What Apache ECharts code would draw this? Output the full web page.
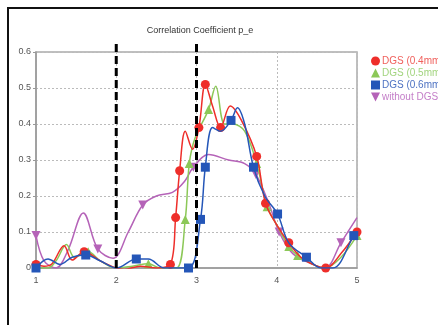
<!DOCTYPE html>
<html>
<head>
<meta charset="utf-8">
<script src="https://cdn.jsdelivr.net/npm/echarts@6/dist/echarts.min.js"></script>
<style>
  html, body { margin: 0; padding: 0; background: #fff; }
  #chart { width: 438px; height: 325px; }
</style>
</head>
<body>
<div id="chart"></div>
<script>
// Correlation coefficient p_e versus position, four configurations
const titleText = 'Correlation Coefficient p_e';
const seriesNames = ['DGS (0.4mm)', 'DGS (0.5mm)', 'DGS (0.6mm)', 'without DGS'];
const xTicks = [1, 2, 3, 4, 5];
const yTicks = [0, 0.1, 0.2, 0.3, 0.4, 0.5, 0.6];
const boundaryX = [2, 3];

// curve samples [x, y]
const dgs04 = [
  [1.0, 0.01], [1.1, 0.005], [1.2, 0.012], [1.35, 0.062], [1.45, 0.022], [1.6, 0.045],
  [1.8, 0.02], [2.0, 0.0], [2.1, -0.004], [2.3, 0.005], [2.5, 0.0], [2.675, 0.01],
  [2.74, 0.14], [2.79, 0.27], [2.86, 0.38], [2.95, 0.33], [3.03, 0.39], [3.11, 0.51],
  [3.2, 0.45], [3.3, 0.39], [3.42, 0.45], [3.56, 0.41], [3.75, 0.31], [3.86, 0.18],
  [4.0, 0.12], [4.15, 0.07], [4.3, 0.03], [4.45, 0.01], [4.61, 0.0], [4.8, 0.04], [5.0, 0.10]
];
const dgs05 = [
  [1.0, 0.0], [1.15, 0.0], [1.25, 0.02], [1.38, 0.065], [1.48, 0.03], [1.65, 0.045],
  [1.8, 0.02], [2.0, 0.0], [2.2, 0.005], [2.4, 0.012], [2.55, 0.0], [2.75, 0.0],
  [2.86, 0.135], [2.91, 0.29], [2.98, 0.36], [3.15, 0.44], [3.24, 0.505], [3.35, 0.4],
  [3.45, 0.4], [3.6, 0.38], [3.75, 0.29], [3.88, 0.17], [4.0, 0.12], [4.15, 0.06],
  [4.26, 0.035], [4.45, 0.01], [4.6, 0.0], [4.8, 0.03], [5.0, 0.09]
];
const dgs06 = [
  [1.0, 0.0], [1.15, 0.025], [1.3, 0.01], [1.45, 0.03], [1.62, 0.036], [1.8, 0.02],
  [2.0, 0.0], [2.25, 0.025], [2.4, 0.025], [2.6, 0.0], [2.9, 0.0], [3.05, 0.135],
  [3.11, 0.28], [3.2, 0.39], [3.3, 0.38], [3.43, 0.41], [3.51, 0.445], [3.6, 0.4],
  [3.71, 0.28], [3.85, 0.2], [4.01, 0.15], [4.15, 0.07], [4.37, 0.03], [4.55, 0.0],
  [4.7, 0.0], [4.96, 0.09], [5.0, 0.1]
];
const noDgs = [
  [1.0, 0.09], [1.1, 0.02], [1.25, 0.0], [1.4, 0.05], [1.59, 0.153], [1.77, 0.053],
  [1.96, 0.027], [2.15, 0.1], [2.33, 0.175], [2.5, 0.2], [2.7, 0.21], [2.85, 0.24],
  [2.96, 0.28], [3.15, 0.315], [3.4, 0.3], [3.6, 0.29], [3.74, 0.26], [3.9, 0.18],
  [4.03, 0.1], [4.2, 0.04], [4.45, 0.01], [4.6, 0.0], [4.8, 0.07], [5.0, 0.14]
];

// which samples carry a marker (indices into the arrays above)
const dgs04Marked = [0, 5, 8, 11, 12, 13, 16, 17, 19, 22, 23, 25, 28, 30];
const dgs05Marked = [5, 9, 12, 13, 15, 20, 21, 23, 24, 28];
const dgs06Marked = [0, 4, 7, 10, 11, 12, 15, 18, 20, 22, 25];
const noDgsMarked = [0, 5, 8, 12, 16, 18, 22];

const colors = ['#ee2e2a', '#8cc858', '#2456b8', '#b563b8'];
const legendTextColors = ['#f0605c', '#a2d47e', '#4d72c2', '#c47ec8'];
const symbols = ['circle', 'triangle', 'rect', 'path://M0,0 L10,0 L5,10 Z'];
const FONT = 'Liberation Sans, Arial, sans-serif';

function withMarkers(points, marked) {
  return points.map((p, i) => marked.includes(i) ? p : { value: p, symbol: 'none' });
}

const curves = [
  { data: dgs04, marked: dgs04Marked, z: 4 },
  { data: dgs05, marked: dgs05Marked, z: 3 },
  { data: dgs06, marked: dgs06Marked, z: 5 },
  { data: noDgs, marked: noDgsMarked, z: 2 }
];

const series = curves.map((c, i) => ({
  name: seriesNames[i],
  type: 'line',
  smooth: 0.35,
  data: withMarkers(c.data, c.marked),
  symbol: symbols[i],
  symbolSize: 9,
  showAllSymbol: true,
  z: c.z,
  lineStyle: { color: colors[i], width: 1.5 },
  itemStyle: { color: colors[i] },
  emphasis: { disabled: true },
  animation: false
}));

// dashed boundary markers at x = 2 and x = 3
boundaryX.forEach(x => {
  series.push({
    type: 'line',
    data: [[x, 0], [x, 0.625]],
    symbol: 'none',
    clip: false,
    z: 6,
    lineStyle: { color: '#000', width: 3, type: [8, 4] },
    emphasis: { disabled: true },
    animation: false
  });
});

const chart = echarts.init(document.getElementById('chart'), null, { renderer: 'canvas' });
chart.setOption({
  backgroundColor: '#fff',
  animation: false,
  title: {
    text: titleText,
    left: 195,
    top: 21,
    textAlign: 'center',
    textStyle: { fontFamily: FONT, fontSize: 9, fontWeight: 'normal', color: '#333' }
  },
  graphic: [{
    type: 'rect',
    shape: { x: 8, y: 8, width: 440, height: 330 },
    style: { fill: 'none', stroke: '#111', lineWidth: 2 },
    silent: true
  }],
  legend: {
    orient: 'vertical',
    left: 366,
    top: 51,
    itemWidth: 9,
    itemHeight: 9,
    itemGap: 2,
    data: seriesNames.map((n, i) => ({
      name: n, icon: symbols[i],
      textStyle: { color: legendTextColors[i], fontFamily: FONT, fontSize: 10, padding: [0, 0, 0, -3] }
    })),
    selectedMode: false
  },
  grid: {
    left: 36, top: 52, width: 321, height: 216,
    show: true, borderColor: '#aaa', borderWidth: 1.5, backgroundColor: 'transparent'
  },
  xAxis: {
    type: 'value',
    min: xTicks[0], max: xTicks[xTicks.length - 1], interval: 1,
    axisLine: { show: true, lineStyle: { color: '#999', width: 1.5 } },
    axisTick: { show: false },
    axisLabel: { color: '#555', fontFamily: FONT, fontSize: 9, margin: 8 },
    splitLine: { show: true, lineStyle: { color: '#bbb', type: [2, 2], width: 1 } }
  },
  yAxis: {
    type: 'value',
    min: yTicks[0], max: yTicks[yTicks.length - 1], interval: 0.1,
    axisLine: { show: true, lineStyle: { color: '#999', width: 1.5 } },
    axisTick: { show: true, length: 3, lineStyle: { color: '#999' } },
    axisLabel: {
      color: '#555', fontFamily: FONT, fontSize: 9, margin: 5,
      formatter: v => (Math.round(v * 10) / 10).toString()
    },
    splitLine: { show: true, lineStyle: { color: '#bbb', type: [2, 2], width: 1 } }
  },
  series: series
});
</script>
</body>
</html>
